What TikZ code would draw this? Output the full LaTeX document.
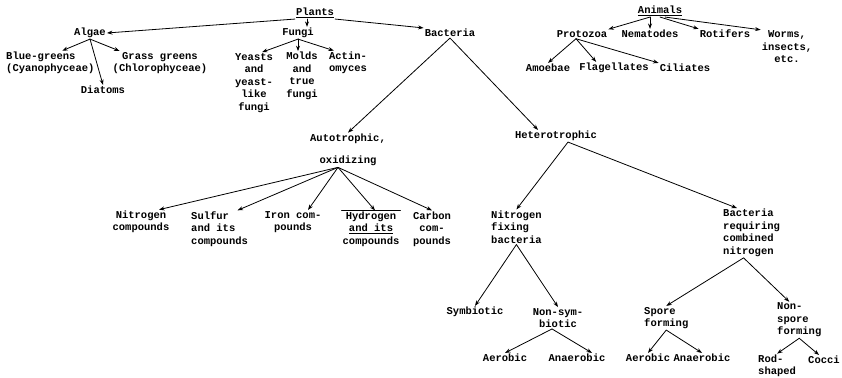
\documentclass[tikz,border=0pt]{standalone}
\usepackage{fontspec}
\usetikzlibrary{arrows.meta}
\setmonofont{Liberation Mono}
\begin{document}
\begin{tikzpicture}[>={Stealth[length=5.5pt,width=4pt]},line join=round,line cap=round,x=1pt,y=-1pt,
	font=\ttfamily\bfseries\fontsize{10.5}{12.5}\selectfont,
	every node/.style={inner sep=1pt},
	lc/.style={align=center},ll/.style={align=left,anchor=west},
	link/.style={->,line width=.8pt}]
	\useasboundingbox (0,0) rectangle (842,377);
	\node (plants) at (315,13) {\underline{Plants}};
	\node (algae) at (90,33) {Algae};
	\node (fungi) at (298,33) {Fungi};
	\node (bact) at (450,33) {Bacteria};
	\node[ll] (blue) at (5,63) {Blue-greens\\(Cyanophyceae)};
	\node[lc] (grass) at (160,63) {Grass greens\\(Chlorophyceae)};
	\node (diat) at (103,90) {Diatoms};
	\node[lc] (yeast) at (254,83) {Yeasts\\and\\yeast-\\like\\fungi};
	\node[lc] (molds) at (302,76) {Molds\\and\\true\\fungi};
	\node[lc] (actino) at (348,63) {Actin-\\omyces};
	\node (animals) at (660,11) {\underline{Animals}};
	\node (proto) at (582,34) {Protozoa};
	\node (nema) at (650,34) {Nematodes};
	\node (roti) at (725,34) {Rotifers};
	\node[lc] (worms) at (787,47) {Worms,\\insects,\\etc.};
	\node (amoeb) at (548,68) {Amoebae};
	\node (flag) at (614,68) {Flagellates};
	\node (cilia) at (685,68) {Ciliates};
	\node[lc] (auto) at (348,150) {Autotrophic,\\[10pt]oxidizing};
	\node (hetero) at (556,136) {Heterotrophic};
	\node[lc] (nitcomp) at (141,222) {Nitrogen\\compounds};
	\node[ll] (sulfur) at (190,229) {Sulfur\\and its\\compounds};
	\node[lc] (iron) at (293,222) {Iron com-\\pounds};
	\node[lc] (hydro) at (371,229) {Hydrogen\\\underline{and its}\\compounds};
	\node[lc] (carbon) at (432,229) {Carbon\\com-\\pounds};
	\node[ll] (nfix) at (490,227) {Nitrogen\\fixing\\bacteria};
	\node[ll] (breq) at (722,233) {Bacteria\\requiring\\combined\\nitrogen};
	\node (symb) at (475,312) {Symbiotic};
	\node[lc] (nonsym) at (558,318) {Non-sym-\\biotic};
	\node (aerA) at (505,358) {Aerobic};
	\node (anaerA) at (577,358) {Anaerobic};
	\node[ll] (spore) at (643,318) {Spore\\forming};
	\node[ll] (nonspore) at (776,320) {Non-\\spore\\forming};
	\node (aerB) at (648,358) {Aerobic};
	\node (anaerB) at (702,358) {Anaerobic};
	\node[ll] (rod) at (757,366) {Rod-\\shaped};
	\node[anchor=west] (cocci) at (807,360) {Cocci};
	\draw[line width=.6pt] (hydro.north west) -- (hydro.north east);
	\draw[link] (plants.south west) -- (algae.east);
	\draw[link] ([xshift=-8pt]plants.south) -- ([xshift=-8pt]plants.south |- fungi.north);
	\draw[link] (plants.south east) -- (bact.north west);
	\draw[link] (algae.south) -- ([xshift=12pt]blue.north);
	\draw[link] (algae.south) -- ([xshift=8pt]grass.north west);
	\draw[link] (algae.south) -- (diat.north);
	\draw[link] (fungi.south) -- ([xshift=8pt]yeast.north);
	\draw[link] (fungi.south) -- (fungi.south |- molds.north);
	\draw[link] (fungi.south) -- ([xshift=6pt]actino.north west);
	\draw[link] ([xshift=-10pt]animals.south) -- (proto.north east);
	\draw[link] (nema.north |- animals.south) -- (nema.north);
	\draw[link] (animals.south) -- (roti.north west);
	\draw[link] ([xshift=5pt]animals.south) -- (worms.north west);
	\draw[link] ([xshift=-6pt]proto.south) -- (amoeb.north);
	\draw[link] ([xshift=-6pt]proto.south) -- ([xshift=18pt]flag.north west);
	\draw[link] ([xshift=-6pt]proto.south) -- (cilia.north west);
	\draw[link] (bact.south) -- (auto.north);
	\draw[link] (bact.south) -- ([xshift=-18pt]hetero.north);
	\draw[link] ([xshift=-10pt]auto.south) -- ([xshift=18pt]nitcomp.north);
	\draw[link] ([xshift=-10pt]auto.south) -- ([xshift=18pt]sulfur.north);
	\draw[link] ([xshift=-10pt]auto.south) -- ([xshift=15pt]iron.north);
	\draw[link] ([xshift=-10pt]auto.south) -- ([xshift=4pt]hydro.north);
	\draw[link] ([xshift=-10pt]auto.south) -- (carbon.north);
	\draw[link] ([xshift=12pt]hetero.south) -- (nfix.north);
	\draw[link] ([xshift=12pt]hetero.south) -- ([xshift=15pt]breq.north west);
	\draw[link] (nfix.south) -- (symb.north);
	\draw[link] (nfix.south) -- (nonsym.north);
	\draw[link] ([xshift=-6pt]nonsym.south) -- (aerA.north);
	\draw[link] ([xshift=-6pt]nonsym.south) -- ([xshift=15pt]anaerA.north);
	\draw[link] ([xshift=-8pt]breq.south) -- (spore.north);
	\draw[link] ([xshift=-8pt]breq.south) -- ([xshift=-10pt]nonspore.north);
	\draw[link] (spore.south) -- (aerB.north);
	\draw[link] (spore.south) -- (anaerB.north);
	\draw[link] (nonspore.south) -- (rod.north);
	\draw[link] (nonspore.south) -- ([xshift=12pt]cocci.north west);
\end{tikzpicture}
\end{document}
